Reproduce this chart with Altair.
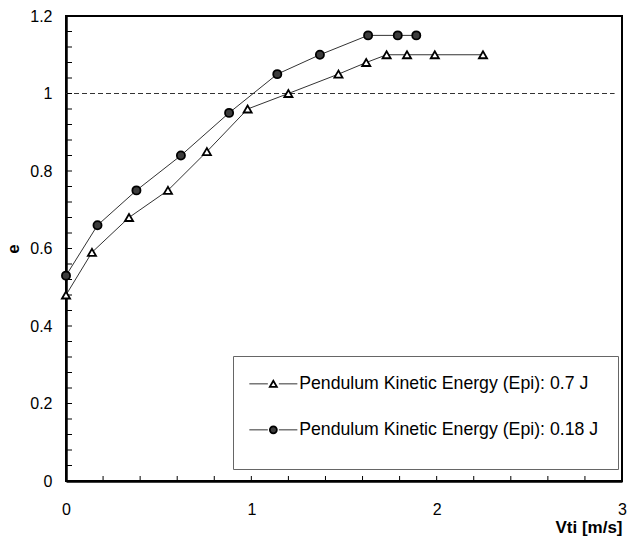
import altair as alt
import pandas as pd

# Series labels
series_a = "Pendulum Kinetic Energy (Epi): 0.7 J"
series_b = "Pendulum Kinetic Energy (Epi): 0.18 J"

# Epi = 0.7 J (open triangles)
vti_a = [0.0, 0.14, 0.34, 0.55, 0.76, 0.98, 1.20, 1.47, 1.62, 1.73, 1.84, 1.99, 2.25]
e_a = [0.48, 0.59, 0.68, 0.75, 0.85, 0.96, 1.00, 1.05, 1.08, 1.10, 1.10, 1.10, 1.10]

# Epi = 0.18 J (filled circles)
vti_b = [0.0, 0.17, 0.38, 0.62, 0.88, 1.14, 1.37, 1.63, 1.79, 1.89]
e_b = [0.53, 0.66, 0.75, 0.84, 0.95, 1.05, 1.10, 1.15, 1.15, 1.15]

# Axis ticks
x_labels = [0, 1, 2, 3]
y_labels = [0, 0.2, 0.4, 0.6, 0.8, 1.0, 1.2]
x_minor = [0.2, 0.4, 0.6, 0.8, 1.0, 1.2, 1.4, 1.6, 1.8, 2.0, 2.2, 2.4, 2.6, 2.8]
y_minor = [round(i * 0.04, 2) for i in range(1, 30)]
reference_e = 1.0
reference_span = [0.0, 2.96]

df = pd.DataFrame({
    "vti": vti_a + vti_b,
    "e": e_a + e_b,
    "series": [series_a] * len(vti_a) + [series_b] * len(vti_b),
})
# separate key for the line legend so it is not merged with the marker legend
df["line_key"] = df["series"] + " "

W, H = 556, 465
FONT = "Liberation Sans"
order = [series_a, series_b]
line_order = [s + " " for s in order]

x_scale = alt.Scale(domain=[0, 3], nice=False, zero=False)
y_scale = alt.Scale(domain=[0, 1.2], nice=False, zero=False)

x_axis = alt.Axis(
    values=x_labels, format="~g", ticks=False, grid=False,
    domainColor="black", domainWidth=2.5,
    labelFont=FONT, labelFontSize=16, labelColor="black", labelPadding=20,
    labelFlush=False,
    title="Vti [m/s]", titleFont=FONT, titleFontSize=17, titleFontWeight="bold",
    titleColor="black", titleAlign="right", titleBaseline="alphabetic",
    titleX=W, titleY=51,
)
y_axis = alt.Axis(
    values=y_labels, format="~g", ticks=False, grid=False,
    domainColor="black", domainWidth=2.5,
    labelFont=FONT, labelFontSize=16, labelColor="black", labelPadding=14,
    labelFlush=False,
    title="e", titleFont=FONT, titleFontSize=17, titleFontWeight="bold",
    titleColor="black", titleAngle=270, titleAlign="center", titleBaseline="middle",
    titleX=-53, titleY=H / 2,
)

LEG_X, LEG_Y, LEG_PAD, SYM_SIZE, SYM_OFF, ROW_PAD, LABEL_SIZE = 167, 340, 19, 49, 12.5, 27, 17.7

# a blank title under the entries adds extra room at the bottom of the legend box
legend_common = dict(
    orient="none", legendX=LEG_X, legendY=LEG_Y, padding=LEG_PAD,
    title=" ", titleOrient="bottom", titleFontSize=5, titlePadding=6,
    symbolSize=SYM_SIZE, symbolOffset=SYM_OFF,
    labelFont=FONT, labelFontSize=LABEL_SIZE, labelLimit=400,
    labelOffset=17, rowPadding=ROW_PAD,
)

# connecting-line segments drawn left and right of each legend marker
line_legend = alt.Legend(
    symbolType="M-6.86,0H-1.57M1.57,0H6.86", symbolStrokeWidth=1,
    symbolFillColor="transparent", labelOpacity=0, **legend_common,
)
marker_legend = alt.Legend(
    symbolStrokeWidth=1.8, strokeColor="#666666", labelColor="black", **legend_common,
)

base = alt.Chart(df)

lines = base.mark_line(strokeWidth=1).encode(
    x=alt.X("vti:Q", scale=x_scale, axis=x_axis),
    y=alt.Y("e:Q", scale=y_scale, axis=y_axis),
    color=alt.Color("line_key:N", scale=alt.Scale(domain=line_order, range=["#333333", "#333333"]),
                    legend=line_legend),
)

points = base.mark_point(size=66, strokeWidth=1.8, opacity=1).encode(
    x=alt.X("vti:Q", scale=x_scale, axis=x_axis),
    y=alt.Y("e:Q", scale=y_scale, axis=y_axis),
    shape=alt.Shape("series:N", scale=alt.Scale(domain=order, range=["triangle-up", "circle"]),
                    legend=marker_legend),
    fill=alt.Fill("series:N", scale=alt.Scale(domain=order, range=["white", "#3c3c3c"]),
                  legend=marker_legend),
    stroke=alt.Stroke("series:N", scale=alt.Scale(domain=order, range=["black", "black"]),
                      legend=marker_legend),
)

ref_line = alt.Chart(
    pd.DataFrame({"e": [reference_e], "x0": [reference_span[0]], "x1": [reference_span[1]]})
).mark_rule(color="#333333", strokeWidth=1, strokeDash=[5, 3]).encode(
    y=alt.Y("e:Q", scale=y_scale, axis=y_axis),
    x=alt.X("x0:Q", scale=x_scale, axis=x_axis),
    x2="x1:Q",
)

# small inward ticks along the left and bottom edges
y_ticks = alt.Chart(pd.DataFrame({"e": y_minor})).mark_tick(
    orient="horizontal", size=5, thickness=1, color="black", opacity=1
).encode(
    y=alt.Y("e:Q", scale=y_scale, axis=y_axis),
    x=alt.value(3.5),
)
x_ticks = alt.Chart(pd.DataFrame({"vti": x_minor})).mark_tick(
    orient="vertical", size=4, thickness=1, color="black", opacity=1
).encode(
    x=alt.X("vti:Q", scale=x_scale, axis=x_axis),
    y=alt.value(H - 3),
)

chart = alt.layer(lines, ref_line, y_ticks, x_ticks, points).properties(
    width=W, height=H,
    autosize=alt.AutoSizeParams(type="none"),
    padding={"left": 66, "top": 16, "right": 5, "bottom": 58},
    background="white",
).configure_view(
    stroke="black", strokeWidth=2
)

chart.save("out.html", embed_options={"renderer": "svg", "actions": False})
